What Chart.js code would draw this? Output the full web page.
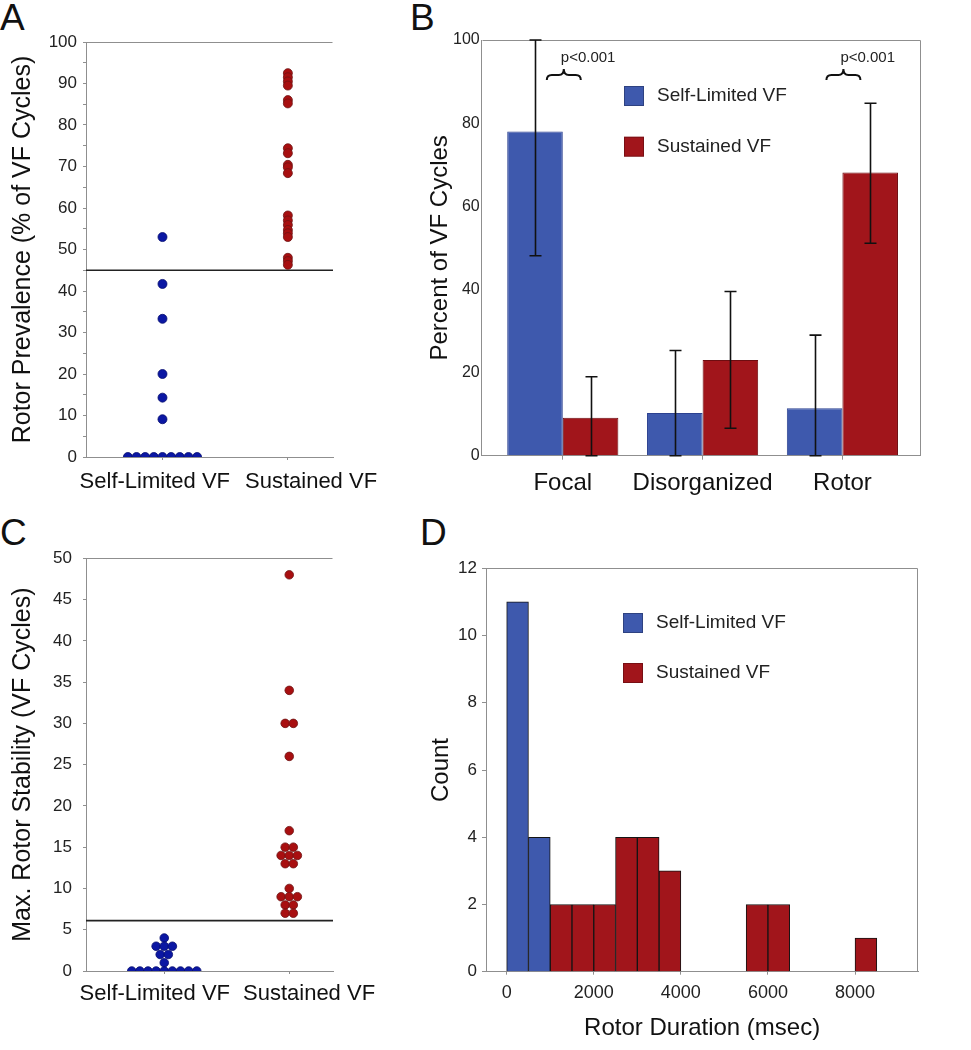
<!DOCTYPE html>
<html>
<head>
<meta charset="utf-8">
<script src="https://cdn.jsdelivr.net/npm/chart.js@4.4.0/dist/chart.umd.min.js"></script>
<style>
  body { margin: 0; background: #fff; width: 971px; height: 1050px; position: relative; overflow: hidden;
         font-family: "Liberation Sans", Arial, sans-serif; }
  .panel { position: absolute; }
  .letter { position: absolute; font-size: 37px; line-height: 1; color: #111; }
</style>
</head>
<body>
<div class="letter" style="left:0px;top:-1px">A</div>
<div class="letter" style="left:410px;top:-1px">B</div>
<div class="letter" style="left:0px;top:514px">C</div>
<div class="letter" style="left:420px;top:514px">D</div>

<div class="panel" style="left:0;top:0"><canvas id="chartA" width="390" height="500"></canvas></div>
<div class="panel" style="left:400px;top:0"><canvas id="chartB" width="540" height="500"></canvas></div>
<div class="panel" style="left:0;top:520px"><canvas id="chartC" width="390" height="530"></canvas></div>
<div class="panel" style="left:400px;top:520px"><canvas id="chartD" width="540" height="530"></canvas></div>

<script>
// ---- data ----
const groups = ["Self-Limited VF", "Sustained VF"];

// A: rotor prevalence per patient (% of VF cycles)
const prevSelfLimited = [53, 41.7, 33.3, 20, 14.3, 9.1, 0, 0, 0, 0, 0, 0, 0, 0, 0];
const prevSustained = [92.5, 91.5, 90.5, 89.5, 86, 85.2, 74.4, 73.2, 70.4, 69.8, 68.4,
                       58.2, 57, 55.9, 54.7, 53.9, 53, 48, 47.2, 46.3];
const prevThreshold = 45;

// C: max rotor stability per patient (VF cycles)
const stabSelfLimited = [4, 3, 3, 3, 2, 2, 1, 0, 0, 0, 0, 0, 0, 0, 0, 0];
const stabSustained = [48, 34, 30, 30, 26, 17, 15, 15, 14, 14, 14, 13, 13, 10, 9, 9, 9, 8, 8, 7, 7];
const stabThreshold = 6.1;

// B: mechanism share with error ranges
const mechanisms = ["Focal", "Disorganized", "Rotor"];
const pctSelfLimited = [78, 10.3, 11.4];
const pctSustained = [9.1, 23, 68.1];
const errSelfLimited = [[48.1, 100], [0, 25.3], [0, 29]];
const errSustained = [[0, 19], [6.6, 39.5], [51.1, 84.8]];
const pLabels = ["p<0.001", "", "p<0.001"];

// D: rotor duration histogram (500 ms bins)
const binStarts = [0, 500, 1000, 1500, 2000, 2500, 3000, 3500, 4000, 4500, 5000, 5500, 6000, 6500, 7000, 7500, 8000];
const countSelfLimited = [11, 4, 0, 0, 0, 0, 0, 0, 0, 0, 0, 0, 0, 0, 0, 0, 0];
const countSustained = [0, 0, 2, 2, 2, 4, 4, 3, 0, 0, 0, 2, 2, 0, 0, 0, 1];
const durationTicks = [0, 2000, 4000, 6000, 8000];
const binWidth = 500;

// ---- look ----
const FONT = '"Liberation Sans", Arial, sans-serif';
const BLUE_BAR = '#3e59ad', RED_BAR = '#a1151b';
const BLUE_DOT = '#0b17a3', RED_DOT = '#a80f10';
const AXIS = '#8f8f8f';
Chart.defaults.font.family = FONT;
Chart.defaults.color = '#1a1a1a';
Chart.defaults.animation = false;
Chart.defaults.plugins.legend.display = false;
Chart.defaults.plugins.tooltip.enabled = false;

// spread equal values side by side (dot plot)
function swarm(values, center, step) {
  const total = {}, used = {};
  values.forEach(v => total[v] = (total[v] || 0) + 1);
  return values.map(v => {
    const k = used[v] = (used[v] || 0) + 1;
    return { x: center + (k - 1 - (total[v] - 1) / 2) * step, y: v };
  });
}

// frame lines the axes don't draw
const framePlugin = {
  id: 'frame',
  beforeDatasetsDraw(chart, args, opts) {
    const { ctx, chartArea: a } = chart;
    const l = Math.round(a.left) + 0.5, r = Math.round(a.right) - 0.5;
    const t = Math.round(a.top) + 0.5, b = Math.round(a.bottom) - 0.5;
    ctx.save();
    ctx.strokeStyle = AXIS;
    ctx.lineWidth = 1;
    ctx.beginPath();
    ctx.moveTo(l, t); ctx.lineTo(r, t);
    if (opts.box) ctx.lineTo(r, b);
    ctx.stroke();
    ctx.restore();
  }
};

// group names under the dot plots (set apart like the original figure)
const groupLabelPlugin = {
  id: 'groupLabels',
  afterDraw(chart, args, opts) {
    const { ctx, chartArea: a } = chart;
    ctx.save();
    ctx.font = '22px ' + FONT;
    ctx.fillStyle = '#111';
    ctx.textBaseline = 'middle';
    const y = a.bottom + opts.dy;
    ctx.textAlign = 'right';
    ctx.fillText(groups[0], a.left + opts.end0, y);
    ctx.textAlign = 'left';
    ctx.fillText(groups[1], a.left + opts.start1, y);
    ctx.restore();
  }
};

const errorBarPlugin = {
  id: 'errorBars',
  afterDatasetsDraw(chart) {
    const { ctx } = chart, ys = chart.scales.y;
    ctx.save();
    ctx.strokeStyle = '#111';
    ctx.lineWidth = 1.6;
    chart.data.datasets.forEach((ds, i) => {
      if (!ds.errorBars) return;
      chart.getDatasetMeta(i).data.forEach((bar, j) => {
        const [lo, hi] = ds.errorBars[j];
        const x = Math.round(bar.x) + 0.5;
        const y0 = ys.getPixelForValue(lo), y1 = ys.getPixelForValue(hi);
        ctx.beginPath();
        ctx.moveTo(x, y0); ctx.lineTo(x, y1);
        ctx.moveTo(x - 6, y0); ctx.lineTo(x + 6, y0);
        ctx.moveTo(x - 6, y1); ctx.lineTo(x + 6, y1);
        ctx.stroke();
      });
    });
    ctx.restore();
  }
};

const bracePlugin = {
  id: 'braces',
  afterDatasetsDraw(chart, args, opts) {
    const { ctx } = chart;
    const xs = chart.scales.x, ys = chart.scales.y;
    ctx.save();
    ctx.strokeStyle = '#111';
    ctx.lineWidth = 2;
    ctx.fillStyle = '#222';
    ctx.font = '15px ' + FONT;
    ctx.textBaseline = 'middle';
    opts.labels.forEach((txt, i) => {
      if (!txt) return;
      const xc = xs.getPixelForValue(i + 1) + 1, y = ys.getPixelForValue(opts.level);
      const x0 = xc - 17, x1 = xc + 17;
      ctx.beginPath();
      ctx.moveTo(x0, y + 5);
      ctx.quadraticCurveTo(x0, y, x0 + 5, y);
      ctx.lineTo(xc - 5, y);
      ctx.quadraticCurveTo(xc, y, xc, y - 6);
      ctx.quadraticCurveTo(xc, y, xc + 5, y);
      ctx.lineTo(x1 - 5, y);
      ctx.quadraticCurveTo(x1, y, x1, y + 5);
      ctx.stroke();
      ctx.fillText(txt, xc - 3, y - 17);
    });
    ctx.restore();
  }
};

const boxLegendPlugin = {
  id: 'boxLegend',
  afterDraw(chart, args, opts) {
    const { ctx, chartArea: a } = chart;
    ctx.save();
    ctx.font = '19px ' + FONT;
    ctx.textBaseline = 'middle';
    chart.data.datasets.filter(ds => ds.label).forEach((ds, i) => {
      const x = a.left + opts.dx, y = a.top + opts.dy + i * opts.gap;
      ctx.fillStyle = ds.backgroundColor;
      ctx.fillRect(x, y, 20, 20);
      ctx.strokeStyle = 'rgba(0,0,0,0.25)';
      ctx.lineWidth = 1;
      ctx.strokeRect(x + 0.5, y + 0.5, 19, 19);
      ctx.fillStyle = '#222';
      ctx.fillText(ds.label, x + 33, y + 10);
    });
    ctx.restore();
  }
};

// ---- A and C: dot plots ----
function dotChart(id, cfg) {
  return new Chart(document.getElementById(id), {
    type: 'scatter',
    data: {
      datasets: [
        { data: swarm(cfg.lo, 1, cfg.step), backgroundColor: BLUE_DOT, borderColor: '#050c6e',
          borderWidth: 0.8, pointRadius: cfg.r, clip: 0 },
        { data: swarm(cfg.hi, 2, cfg.step), backgroundColor: RED_DOT, borderColor: '#6d1414',
          borderWidth: 0.8, pointRadius: cfg.r, clip: 0 },
        { type: 'line', data: [{ x: cfg.xmin, y: cfg.thr }, { x: cfg.xmax, y: cfg.thr }],
          borderColor: '#222', borderWidth: 1.6, pointRadius: 0 }
      ]
    },
    options: {
      responsive: false,
      layout: { padding: { top: cfg.top, right: 57, left: 0, bottom: 0 } },
      scales: {
        x: {
          type: 'linear', min: cfg.xmin, max: cfg.xmax, offset: false,
          afterBuildTicks: s => { s.ticks = groups.map((g, i) => ({ value: i + 1 })); },
          afterFit: s => { s.height = cfg.xh; },
          ticks: { callback: () => '', font: { size: 22 }, padding: 0 },
          grid: { drawOnChartArea: false, tickLength: 3, color: AXIS },
          border: { color: AXIS }
        },
        y: {
          min: 0, max: cfg.ymax,
          afterFit: s => { s.width = 86; },
          ticks: { stepSize: cfg.ystep, autoSkip: false, font: { size: 17 }, color: '#222', padding: cfg.ypad,
                   callback: v => (v % cfg.labelEvery === 0 ? v : '') },
          grid: { drawOnChartArea: false, tickLength: 3, color: AXIS },
          border: { color: AXIS },
          title: { display: true, text: cfg.title, font: { size: 25 }, color: '#111', padding: { top: 8, bottom: 0 } }
        }
      },
      plugins: {
        frame: { box: false },
        groupLabels: { dy: cfg.laby, end0: cfg.end0, start1: cfg.start1 }
      }
    },
    plugins: [framePlugin, groupLabelPlugin]
  });
}

dotChart('chartA', {
  lo: prevSelfLimited, hi: prevSustained, thr: prevThreshold,
  xmin: 0.39, xmax: 2.36, step: 0.069, r: 4.5, top: 42, xh: 43,
  ymax: 100, ystep: 5, labelEvery: 10, ypad: 6,
  laby: 25, end0: 144, start1: 159,
  title: 'Rotor Prevalence (% of VF Cycles)'
});

dotChart('chartC', {
  lo: stabSelfLimited, hi: stabSustained, thr: stabThreshold,
  xmin: 0.374, xmax: 2.35, step: 0.065, r: 4.3, top: 38.3, xh: 79,
  ymax: 50, ystep: 5, labelEvery: 5, ypad: 11,
  laby: 22.5, end0: 144, start1: 157,
  title: 'Max. Rotor Stability (VF Cycles)'
});

// ---- B: grouped bars with error bars ----
new Chart(document.getElementById('chartB'), {
  type: 'bar',
  data: {
    datasets: [
      { label: 'Self-Limited VF', data: pctSelfLimited.map((v, i) => ({ x: i + 1, y: v })),
        errorBars: errSelfLimited, backgroundColor: BLUE_BAR, borderColor: '#2c4190', borderWidth: 1 },
      { label: 'Sustained VF', data: pctSustained.map((v, i) => ({ x: i + 1, y: v })),
        errorBars: errSustained, backgroundColor: RED_BAR, borderColor: '#6e0d11', borderWidth: 1 }
    ]
  },
  options: {
    responsive: false,
    categoryPercentage: 0.795,
    barPercentage: 1,
    layout: { padding: { top: 40, right: 19.3, left: 0, bottom: 0 } },
    scales: {
      x: {
        type: 'linear', min: 0.42, max: 3.56, offset: false,
        afterBuildTicks: s => { s.ticks = mechanisms.map((m, i) => ({ value: i + 1 })); },
        afterFit: s => { s.height = 44.3; },
        ticks: { callback: v => mechanisms[v - 1], font: { size: 24 }, color: '#111', padding: 9 },
        grid: { drawOnChartArea: false, offset: false, tickLength: 4, color: AXIS },
        border: { color: AXIS }
      },
      y: {
        min: 0, max: 100,
        afterFit: s => { s.width = 81.7; },
        ticks: { stepSize: 20, font: { size: 16 }, color: '#222', padding: 2 },
        grid: { drawOnChartArea: false, drawTicks: false, color: AXIS },
        border: { color: AXIS },
        title: { display: true, text: 'Percent of VF Cycles', font: { size: 24 }, color: '#111',
                 padding: { top: 25.6, bottom: 0 } }
      }
    },
    plugins: {
      frame: { box: true },
      braces: { labels: pLabels, level: 91.6 },
      boxLegend: { dx: 142.3, dy: 46, gap: 50.7 }
    }
  },
  plugins: [framePlugin, errorBarPlugin, bracePlugin, boxLegendPlugin]
});

// ---- D: histogram ----
const binCenter = i => binStarts[i] + binWidth / 2;
new Chart(document.getElementById('chartD'), {
  type: 'bar',
  data: {
    datasets: [
      { label: 'Self-Limited VF', grouped: false, backgroundColor: BLUE_BAR, borderColor: '#141414', borderWidth: 1,
        data: countSelfLimited.map((c, i) => ({ x: binCenter(i), y: c })).filter(p => p.y > 0) },
      { label: 'Sustained VF', grouped: false, backgroundColor: RED_BAR, borderColor: '#141414', borderWidth: 1,
        data: countSustained.map((c, i) => ({ x: binCenter(i), y: c })).filter(p => p.y > 0) }
    ]
  },
  options: {
    responsive: false,
    categoryPercentage: 1,
    barPercentage: 1,
    layout: { padding: { top: 48.3, right: 21.7, left: 0, bottom: 0 } },
    scales: {
      x: {
        type: 'linear', min: -475, max: 9453, offset: false,
        afterBuildTicks: s => { s.ticks = durationTicks.map(v => ({ value: v })); },
        afterFit: s => { s.height = 78.3; },
        ticks: { callback: v => String(v), font: { size: 18 }, color: '#222', padding: 7.8 },
        grid: { drawOnChartArea: false, offset: false, tickLength: 3, color: AXIS },
        border: { color: AXIS },
        title: { display: true, text: 'Rotor Duration (msec)', font: { size: 24 }, color: '#111',
                 padding: { top: 0, bottom: 7.6 } }
      },
      y: {
        min: 0, max: 12,
        afterFit: s => { s.width = 86; },
        ticks: { stepSize: 2, font: { size: 17 }, color: '#222', padding: 5 },
        grid: { drawOnChartArea: false, tickLength: 4, color: AXIS },
        border: { color: AXIS },
        title: { display: true, text: 'Count', font: { size: 24 }, color: '#111', padding: { top: 26.6, bottom: 0 } }
      }
    },
    plugins: {
      frame: { box: true },
      boxLegend: { dx: 137, dy: 44.7, gap: 50 }
    }
  },
  plugins: [framePlugin, boxLegendPlugin]
});
</script>
</body>
</html>
